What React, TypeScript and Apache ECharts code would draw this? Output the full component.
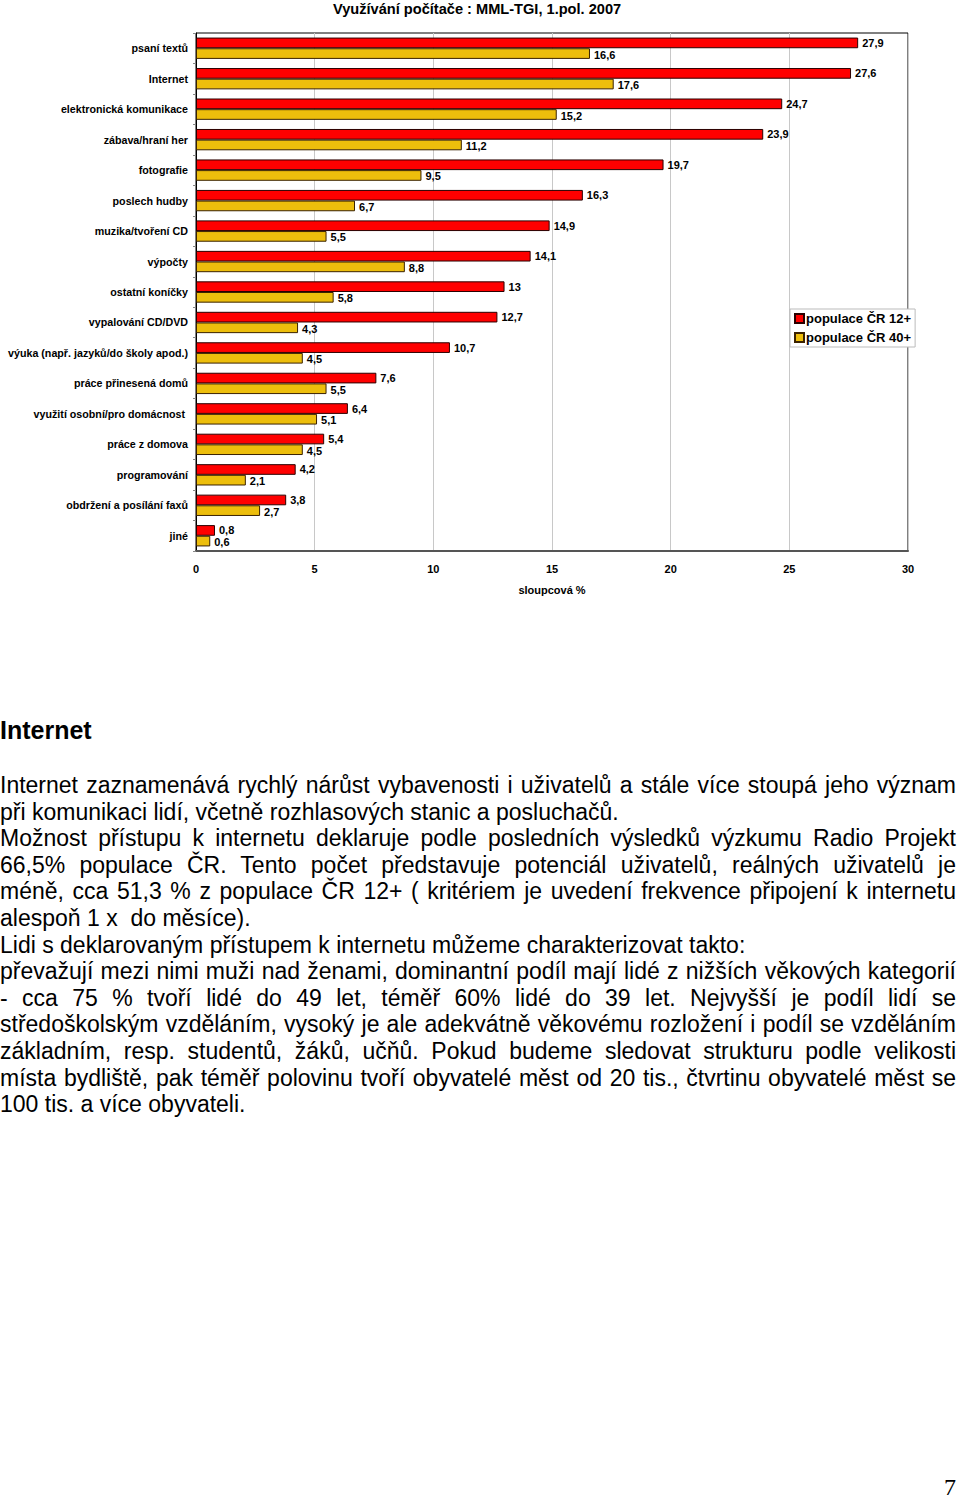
import React, { useEffect, useRef } from "react";
import * as echarts from "echarts";

const TITLE = "Využívání počítače : MML-TGI, 1.pol. 2007";
const categories = [
  "psaní textů",
  "Internet",
  "elektronická komunikace",
  "zábava/hraní her",
  "fotografie",
  "poslech hudby",
  "muzika/tvoření CD",
  "výpočty",
  "ostatní koníčky",
  "vypalování CD/DVD",
  "výuka (např. jazyků/do školy apod.)",
  "práce přinesená domů",
  "využití osobní/pro domácnost ",
  "práce z domova",
  "programování",
  "obdržení a posílání faxů",
  "jiné",
];
const seriesNames = ["populace ČR 12+", "populace ČR 40+"];
const pop12 = [27.9, 27.6, 24.7, 23.9, 19.7, 16.3, 14.9, 14.1, 13, 12.7, 10.7, 7.6, 6.4, 5.4, 4.2, 3.8, 0.8];
const pop40 = [16.6, 17.6, 15.2, 11.2, 9.5, 6.7, 5.5, 8.8, 5.8, 4.3, 4.5, 5.5, 5.1, 4.5, 2.1, 2.7, 0.6];
const xTicks = { min: 0, max: 30, interval: 5 };
const xName = "sloupcová %";

const heading = "Internet";
const lines: { t: string; last: boolean }[] = [
  { t: "Internet zaznamenává rychlý nárůst vybavenosti i uživatelů a stále více stoupá jeho význam", last: false },
  { t: "při komunikaci lidí, včetně rozhlasových stanic a posluchačů.", last: true },
  { t: "Možnost přístupu k internetu deklaruje podle posledních výsledků výzkumu Radio Projekt", last: false },
  { t: "66,5% populace ČR. Tento počet představuje potenciál uživatelů, reálných uživatelů je", last: false },
  { t: "méně, cca 51,3 % z populace ČR 12+ ( kritériem je uvedení frekvence připojení k internetu", last: false },
  { t: "alespoň 1 x  do měsíce).", last: true },
  { t: "Lidi s deklarovaným přístupem k internetu můžeme charakterizovat takto:", last: true },
  { t: "převažují mezi nimi muži nad ženami, dominantní podíl mají lidé z nižších věkových kategorií", last: false },
  { t: "- cca 75 % tvoří lidé do 49 let, téměř 60% lidé do 39 let. Nejvyšší je podíl lidí se", last: false },
  { t: "středoškolským vzděláním, vysoký je ale adekvátně věkovému rozložení i podíl se vzděláním", last: false },
  { t: "základním, resp. studentů, žáků, učňů. Pokud budeme sledovat strukturu podle velikosti", last: false },
  { t: "místa bydliště, pak téměř polovinu tvoří obyvatelé měst od 20 tis., čtvrtinu obyvatelé měst se", last: false },
  { t: "100 tis. a více obyvateli.", last: true },
];
const pageNumber = "7";

const FONT = "Arial, 'Liberation Sans', sans-serif";

export default function App() {
  const ref = useRef<HTMLDivElement>(null);
  useEffect(() => {
    document.body.style.margin = "0";
    const chart = echarts.init(ref.current!, null, { renderer: "svg" });
    const fmt = (p: any) => String(p.value).replace(".", ",");
    const labelStyle = {
      show: true,
      position: "right" as const,
      distance: 4,
      formatter: fmt,
      color: "#000",
      fontWeight: "bold" as const,
      fontSize: 11,
      fontFamily: FONT,
    };
    chart.setOption({
      animation: false,
      backgroundColor: "#fff",
      title: {
        text: TITLE,
        left: 333,
        top: 0,
        padding: [1, 0, 0, 0],
        textStyle: { fontSize: 14.6, fontWeight: "bold", fontFamily: FONT, color: "#000" },
      },
      legend: {
        orient: "vertical",
        left: 790,
        top: 309,
        itemWidth: 9,
        itemHeight: 9,
        itemGap: 6,
        icon: "rect",
        backgroundColor: "#fff",
        borderColor: "#bbb",
        borderWidth: 1,
        padding: [3, 4, 3, 4],
        textStyle: { fontSize: 13, fontWeight: "bold", fontFamily: FONT, color: "#000", padding: [0, 0, 0, -3] },
        data: seriesNames,
      },
      grid: {
        left: 196,
        right: 52,
        top: 33,
        height: 518,
        show: true,
        borderColor: "#000",
        borderWidth: 1,
        backgroundColor: "#fff",
      },
      xAxis: {
        type: "value",
        min: xTicks.min,
        max: xTicks.max,
        interval: xTicks.interval,
        name: xName,
        nameLocation: "middle",
        nameGap: 33,
        nameTextStyle: { fontSize: 11, fontWeight: "bold", fontFamily: FONT, color: "#000" },
        axisLine: { show: true, lineStyle: { color: "#555", width: 2 } },
        axisTick: { show: false },
        axisLabel: { fontSize: 11, fontWeight: "bold", fontFamily: FONT, color: "#000", margin: 12 },
        splitLine: { show: true, lineStyle: { color: "#c8c8c8", width: 1 } },
      },
      yAxis: {
        type: "category",
        inverse: true,
        data: categories,
        axisLine: { show: true, lineStyle: { color: "#000" } },
        axisTick: { show: true, length: 3, lineStyle: { color: "#888" } },
        axisLabel: { fontSize: 10.7, fontWeight: "bold", fontFamily: FONT, color: "#000", margin: 8 },
      },
      series: [
        {
          name: seriesNames[0],
          type: "bar",
          data: pop12,
          barGap: "0%",
          barCategoryGap: "30%",
          itemStyle: { color: "#FF0000", borderColor: "#2a0000", borderWidth: 1 },
          label: labelStyle,
        },
        {
          name: seriesNames[1],
          type: "bar",
          data: pop40,
          barGap: "0%",
          barCategoryGap: "30%",
          itemStyle: { color: "#EDBE0C", borderColor: "#3a2200", borderWidth: 1 },
          label: { ...labelStyle, offset: [0, 1] },
        },
      ],
    });
    return () => chart.dispose();
  }, []);

  return (
    <div style={{ position: "absolute", left: 0, top: 0, width: 960, height: 1499, background: "#fff" }}>
      <div ref={ref} style={{ position: "absolute", left: 0, top: 0, width: 960, height: 620 }} />
      <div
        style={{
          position: "absolute",
          left: 0,
          top: 715,
          fontFamily: FONT,
          fontWeight: "bold",
          fontSize: 25,
          lineHeight: "30px",
          color: "#000",
        }}
      >
        {heading}
      </div>
      <div
        style={{
          position: "absolute",
          left: 0,
          top: 772,
          width: 956,
          fontFamily: FONT,
          fontSize: 23,
          lineHeight: "26.6px",
          color: "#000",
        }}
      >
        {lines.map((l, i) => (
          <div
            key={i}
            style={{
              whiteSpace: "pre",
              textAlign: "justify",
              textAlignLast: l.last ? "left" : "justify",
              height: 26.6,
            }}
          >
            {l.t}
          </div>
        ))}
      </div>
      <div
        style={{
          position: "absolute",
          right: 4,
          top: 1474,
          fontFamily: "'Liberation Serif', 'DejaVu Serif', serif",
          fontSize: 24,
          lineHeight: "26px",
          color: "#000",
        }}
      >
        {pageNumber}
      </div>
    </div>
  );
}
